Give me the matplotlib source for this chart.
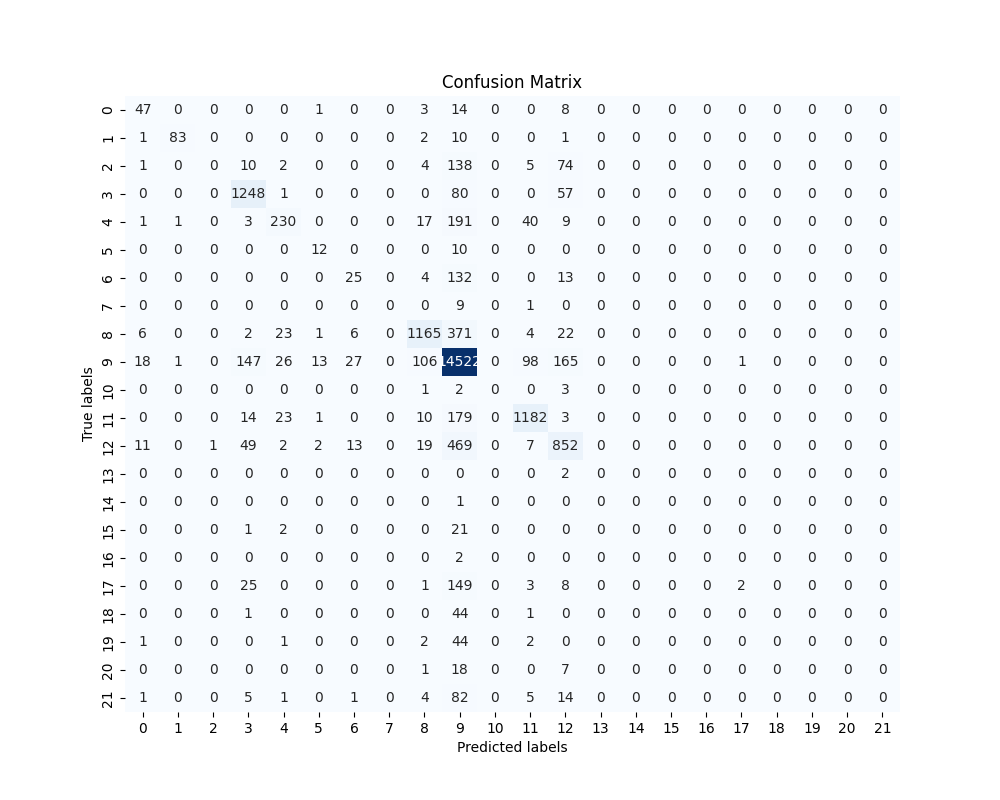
import numpy as np
import matplotlib
matplotlib.use("Agg")
import matplotlib.pyplot as plt
import seaborn as sns

# labels das classes
labels = list(range(22))

# linhas da matriz de confusao (true label = indice da linha)
row0 = [47, 0, 0, 0, 0, 1, 0, 0, 3, 14, 0, 0, 8, 0, 0, 0, 0, 0, 0, 0, 0, 0]
row1 = [1, 83, 0, 0, 0, 0, 0, 0, 2, 10, 0, 0, 1, 0, 0, 0, 0, 0, 0, 0, 0, 0]
row2 = [1, 0, 0, 10, 2, 0, 0, 0, 4, 138, 0, 5, 74, 0, 0, 0, 0, 0, 0, 0, 0, 0]
row3 = [0, 0, 0, 1248, 1, 0, 0, 0, 0, 80, 0, 0, 57, 0, 0, 0, 0, 0, 0, 0, 0, 0]
row4 = [1, 1, 0, 3, 230, 0, 0, 0, 17, 191, 0, 40, 9, 0, 0, 0, 0, 0, 0, 0, 0, 0]
row5 = [0, 0, 0, 0, 0, 12, 0, 0, 0, 10, 0, 0, 0, 0, 0, 0, 0, 0, 0, 0, 0, 0]
row6 = [0, 0, 0, 0, 0, 0, 25, 0, 4, 132, 0, 0, 13, 0, 0, 0, 0, 0, 0, 0, 0, 0]
row7 = [0, 0, 0, 0, 0, 0, 0, 0, 0, 9, 0, 1, 0, 0, 0, 0, 0, 0, 0, 0, 0, 0]
row8 = [6, 0, 0, 2, 23, 1, 6, 0, 1165, 371, 0, 4, 22, 0, 0, 0, 0, 0, 0, 0, 0, 0]
row9 = [18, 1, 0, 147, 26, 13, 27, 0, 106, 14522, 0, 98, 165, 0, 0, 0, 0, 1, 0, 0, 0, 0]
row10 = [0, 0, 0, 0, 0, 0, 0, 0, 1, 2, 0, 0, 3, 0, 0, 0, 0, 0, 0, 0, 0, 0]
row11 = [0, 0, 0, 14, 23, 1, 0, 0, 10, 179, 0, 1182, 3, 0, 0, 0, 0, 0, 0, 0, 0, 0]
row12 = [11, 0, 1, 49, 2, 2, 13, 0, 19, 469, 0, 7, 852, 0, 0, 0, 0, 0, 0, 0, 0, 0]
row13 = [0, 0, 0, 0, 0, 0, 0, 0, 0, 0, 0, 0, 2, 0, 0, 0, 0, 0, 0, 0, 0, 0]
row14 = [0, 0, 0, 0, 0, 0, 0, 0, 0, 1, 0, 0, 0, 0, 0, 0, 0, 0, 0, 0, 0, 0]
row15 = [0, 0, 0, 1, 2, 0, 0, 0, 0, 21, 0, 0, 0, 0, 0, 0, 0, 0, 0, 0, 0, 0]
row16 = [0, 0, 0, 0, 0, 0, 0, 0, 0, 2, 0, 0, 0, 0, 0, 0, 0, 0, 0, 0, 0, 0]
row17 = [0, 0, 0, 25, 0, 0, 0, 0, 1, 149, 0, 3, 8, 0, 0, 0, 0, 2, 0, 0, 0, 0]
row18 = [0, 0, 0, 1, 0, 0, 0, 0, 0, 44, 0, 1, 0, 0, 0, 0, 0, 0, 0, 0, 0, 0]
row19 = [1, 0, 0, 0, 1, 0, 0, 0, 2, 44, 0, 2, 0, 0, 0, 0, 0, 0, 0, 0, 0, 0]
row20 = [0, 0, 0, 0, 0, 0, 0, 0, 1, 18, 0, 0, 7, 0, 0, 0, 0, 0, 0, 0, 0, 0]
row21 = [1, 0, 0, 5, 1, 0, 1, 0, 4, 82, 0, 5, 14, 0, 0, 0, 0, 0, 0, 0, 0, 0]

cm = np.array([row0, row1, row2, row3, row4, row5, row6, row7, row8, row9, row10,
               row11, row12, row13, row14, row15, row16, row17, row18, row19, row20, row21])

plt.figure(figsize=(10, 8), dpi=100)
ax = sns.heatmap(cm, annot=True, fmt='d', cmap='Blues', cbar=False,
                 xticklabels=labels, yticklabels=labels)
ax.set_xlabel('Predicted labels')
ax.set_ylabel('True labels')
ax.set_title('Confusion Matrix')
plt.savefig('out.png')
